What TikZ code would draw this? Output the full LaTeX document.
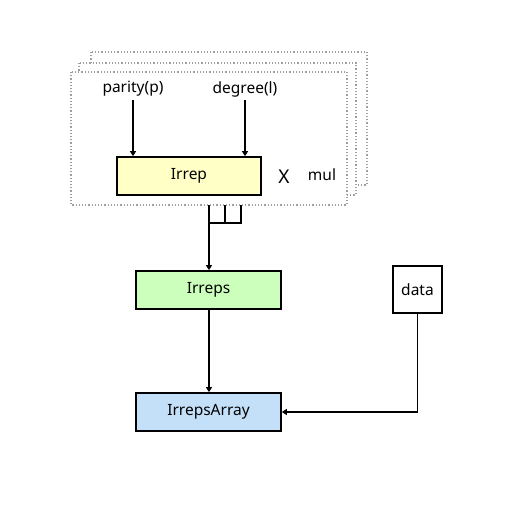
\documentclass[tikz,border=0pt]{standalone}
\usepackage{fontspec}
\setmainfont{Noto Sans}
\usetikzlibrary{arrows.meta}
\definecolor{yel}{HTML}{FFFFC6}
\definecolor{grn}{HTML}{CCFFBB}
\definecolor{blu}{HTML}{C4E0F9}
\tikzset{
  box/.style={draw=black, line width=1.7pt, minimum height=38pt, inner sep=0pt, font=\fontsize{15.5}{18}\selectfont},
  layer/.style={draw=gray!75, dotted, line width=1.2pt, fill=white},
  conn/.style={line width=1.7pt, -{Triangle[length=5pt,width=6pt]}},
  wire/.style={line width=1.7pt},
  lbl/.style={font=\fontsize{15.5}{18}\selectfont, inner sep=0pt}
}
\begin{document}
\begin{tikzpicture}[x=1pt,y=-1pt]
\useasboundingbox (0,0) rectangle (512,512);
\draw[layer] (91,52) rectangle (367,185);
\draw[layer] (79,63) rectangle (356,195);
\draw[layer] (71,72) rectangle (347,205);
\node[box, fill=yel, minimum width=144pt] (irrep) at (189,176) {Irrep};
\node[lbl] (par) at (133,89) {parity(p)};
\node[lbl] (deg) at (245,89) {degree(l)};
\node[lbl, font=\fontsize{19}{21}\selectfont] (x) at (284,177) {X};
\node[lbl] (mul) at (322,175) {mul};
\node[box, fill=grn, minimum width=145pt] (irreps) at (208.5,290) {Irreps};
\node[box, fill=blu, minimum width=145pt] (arr) at (208.5,412) {IrrepsArray};
\node[box, fill=white, minimum width=49pt, minimum height=47pt] (data) at (417.5,289.5) {data};
\coordinate (c1) at (209,205);
\coordinate (c2) at (225,205);
\coordinate (c3) at (241,205);
\coordinate (j) at (209,223);
\draw[conn] (par.south |- 0,100) -- (par.south |- irrep.north);
\draw[conn] (deg.south |- 0,100) -- (deg.south |- irrep.north);
\draw[wire] (c2) -- (c2 |- j);
\draw[wire] (j) -- (c3 |- j) -- (c3);
\draw[conn] (c1) -- (c1 |- irreps.north);
\draw[conn] (c1 |- irreps.south) -- (c1 |- arr.north);
\draw[conn] (data.south) |- (arr.east);
\end{tikzpicture}
\end{document}
